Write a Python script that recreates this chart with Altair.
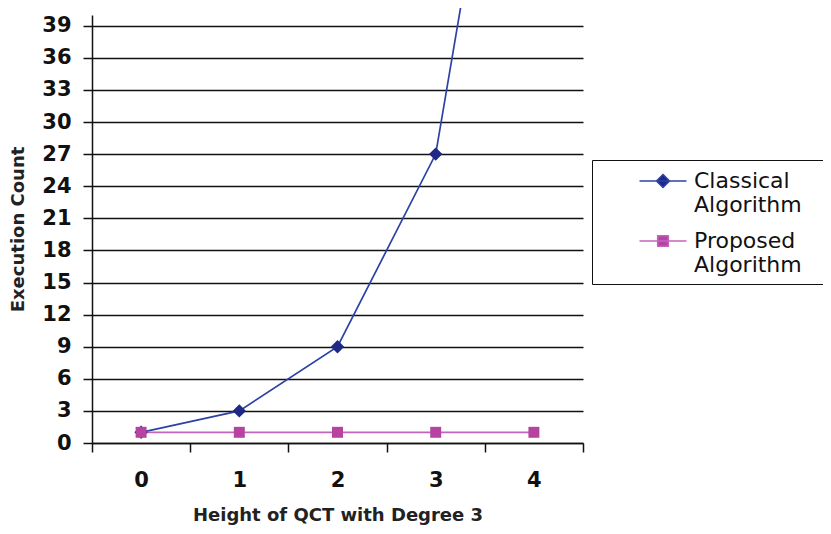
import altair as alt
import pandas as pd

heights = ["0", "1", "2", "3", "4"]
classical = [1, 3, 9, 27, 81]
proposed = [1, 1, 1, 1, 1]
series_names = ["Classical Algorithm", "Proposed Algorithm"]
line_colors = ["#2c42a6", "#c265bd"]
marker_colors = ["#1f2787", "#b5439f"]
marker_shapes = ["diamond", "square"]
marker_sizes = [180, 120]
legend_paths = [
    "M-2,0H2M0,-0.55L0.55,0L0,0.55L-0.55,0Z",
    "M-2,0H2M-0.45,-0.45H0.45V0.45H-0.45Z",
]
y_ticks = list(range(0, 40, 3))

rows = []
for h, c, p in zip(heights, classical, proposed):
    rows.append({"h": h, "series": series_names[0], "value": c})
    rows.append({"h": h, "series": series_names[1], "value": p})
df = pd.DataFrame(rows)

FONT = "DejaVu Sans"
INK = "#111111"

x_enc = alt.X(
    "h:O",
    title="Height of QCT with Degree 3",
    scale=alt.Scale(type="band", paddingInner=0, paddingOuter=0),
    bandPosition=0.5,
    axis=alt.Axis(
        tickBand="extent", labelAngle=0, labelFont=FONT, labelFontWeight="bold",
        labelFontSize=21, labelColor=INK, labelPadding=17, tickSize=9,
        tickColor=INK, tickWidth=1.5, domainColor=INK, domainWidth=1.5,
        titleFont=FONT, titleFontSize=18, titleFontWeight="bold",
        titleColor="#222222", titlePadding=16, grid=False,
    ),
)
y_enc = alt.Y(
    "value:Q",
    title="Execution Count",
    scale=alt.Scale(domain=[0, 40], nice=False),
    axis=alt.Axis(
        values=y_ticks, labelFont=FONT, labelFontWeight="bold", labelFontSize=21,
        labelColor=INK, labelPadding=12, tickSize=9, tickColor=INK, tickWidth=1.5,
        domainColor=INK, domainWidth=1.5, grid=True, gridColor=INK, gridWidth=1.5,
        titleFont=FONT, titleFontSize=18, titleFontWeight="bold",
        titleColor="#222222", titlePadding=14,
    ),
)

lines = alt.Chart(df).mark_line(strokeWidth=1.7, clip=False).encode(
    x=x_enc, y=y_enc,
    color=alt.Color("series:N", scale=alt.Scale(domain=series_names, range=line_colors), legend=None),
)

points = alt.Chart(df).mark_point(filled=True, opacity=1, clip=False).encode(
    x=x_enc, y=y_enc,
    color=alt.Color("series:N", scale=alt.Scale(domain=series_names, range=marker_colors), legend=None),
    shape=alt.Shape("series:N", scale=alt.Scale(domain=series_names, range=marker_shapes), legend=None),
    size=alt.Size("series:N", scale=alt.Scale(domain=series_names, range=marker_sizes), legend=None),
)

leg = alt.Legend(
    orient="none", legendX=500, legendY=145, title=None, strokeColor=INK,
    padding=8, symbolOffset=50, symbolSize=552, symbolStrokeWidth=1.6,
    symbolOpacity=1, labelFont=FONT, labelFontSize=22, labelColor=INK,
    labelOffset=18, labelLimit=400, rowPadding=12,
    labelExpr="[split(datum.label, ' ')[0], split(datum.label, ' ')[1] + '\u2800']",
)

legend_layer = alt.Chart(df).transform_filter("false").mark_point(filled=True, opacity=1).encode(
    x=x_enc, y=y_enc,
    color=alt.Color("series:N", scale=alt.Scale(domain=series_names, range=marker_colors), legend=leg),
    stroke=alt.Stroke("series:N", scale=alt.Scale(domain=series_names, range=line_colors), legend=leg),
    shape=alt.Shape("series:N", scale=alt.Scale(domain=series_names, range=legend_paths), legend=leg),
)

chart = (
    alt.layer(lines, points, legend_layer)
    .resolve_scale(color="independent", shape="independent", stroke="independent", size="independent")
    .properties(
        width=491, height=428,
        autosize=alt.AutoSizeParams(type="none"),
        padding={"left": 84, "top": 7, "right": 240, "bottom": 83},
        background="white",
    )
    .configure_view(stroke=None)
)

chart.save("out.html", embed_options={"renderer": "svg", "actions": False})
